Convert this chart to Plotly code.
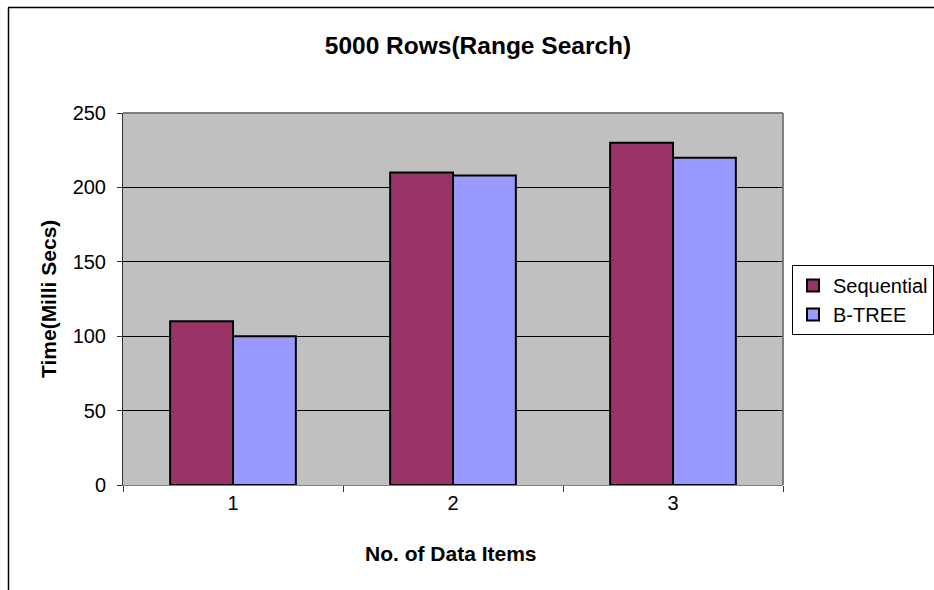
import plotly.graph_objects as go

categories = ["1", "2", "3"]
sequential = [110, 210, 230]
btree = [100, 208, 220]
y_ticks = [0, 50, 100, 150, 200, 250]

W, H = 934, 590
L, R, T, B = 123, 151, 113, 105
pw, ph = W - L - R, H - T - B

fig = go.Figure()
fig.add_trace(go.Bar(x=categories, y=sequential, name="Sequential",
                     marker=dict(color="#993366", line=dict(color="black", width=2))))
fig.add_trace(go.Bar(x=categories, y=btree, name="B-TREE",
                     marker=dict(color="#9999FF", line=dict(color="black", width=2))))

def px_x(x):
    return (x - L) / pw

def px_y(y):
    return (H - B - y) / ph

FONT = "Liberation Sans, Arial, sans-serif"

fig.update_layout(
    width=W, height=H,
    margin=dict(l=L, r=R, t=T, b=B, autoexpand=False),
    paper_bgcolor="white",
    plot_bgcolor="#C0C0C0",
    font=dict(family=FONT, color="black", size=20),
    barmode="group",
    bargap=0.4286,
    bargroupgap=0,
    title=dict(text="<b>5000 Rows(Range Search)</b>", x=478 / W, xref="container",
               xanchor="center", y=1 - 45 / H, yref="container", yanchor="middle",
               font=dict(size=24.5)),
    showlegend=True,
    legend=dict(x=px_x(792), y=px_y(265), xanchor="left", yanchor="top",
                bordercolor="black", borderwidth=1, bgcolor="white",
                font=dict(size=20), tracegroupgap=0, itemwidth=30),
    xaxis=dict(type="category", tickson="boundaries", ticks="outside", ticklen=6,
               tickcolor="#333", showline=True, linecolor="#808080", linewidth=1,
               showgrid=False, tickfont=dict(size=20)),
    yaxis=dict(range=[0, 250], tickvals=y_ticks, ticks="outside", ticklen=5,
               tickcolor="#333", showline=True, linecolor="#333", linewidth=1,
               showgrid=True, gridcolor="black", gridwidth=1, zeroline=False,
               tickfont=dict(size=20), ticklabelstandoff=7),
    annotations=[
        dict(text="<b>No. of Data Items</b>", xref="paper", yref="paper",
             x=px_x(451), y=px_y(553), xanchor="center", yanchor="middle",
             showarrow=False, font=dict(size=21)),
        dict(text="<b>Time(Milli Secs)</b>", xref="paper", yref="paper",
             x=px_x(48), y=px_y(299), xanchor="center", yanchor="middle",
             textangle=-90, showarrow=False, font=dict(size=21)),
    ],
    shapes=[
        dict(type="line", xref="paper", yref="paper", x0=0, x1=1, y0=1, y1=1,
             line=dict(color="#808080", width=2), layer="above"),
        dict(type="line", xref="paper", yref="paper", x0=1, x1=1, y0=0, y1=1,
             line=dict(color="#808080", width=2), layer="above"),
        dict(type="line", xref="paper", yref="paper", x0=px_x(8), x1=px_x(W + 5),
             y0=px_y(7.5), y1=px_y(7.5), line=dict(color="black", width=1.5)),
        dict(type="line", xref="paper", yref="paper", x0=px_x(8.5), x1=px_x(8.5),
             y0=px_y(7.5), y1=px_y(H + 5), line=dict(color="black", width=1.5)),
    ],
)

fig.write_html(
    "out.html",
    config={"displayModeBar": False},
    post_script="document.body.style.margin='0';document.body.style.overflow='hidden';",
)
